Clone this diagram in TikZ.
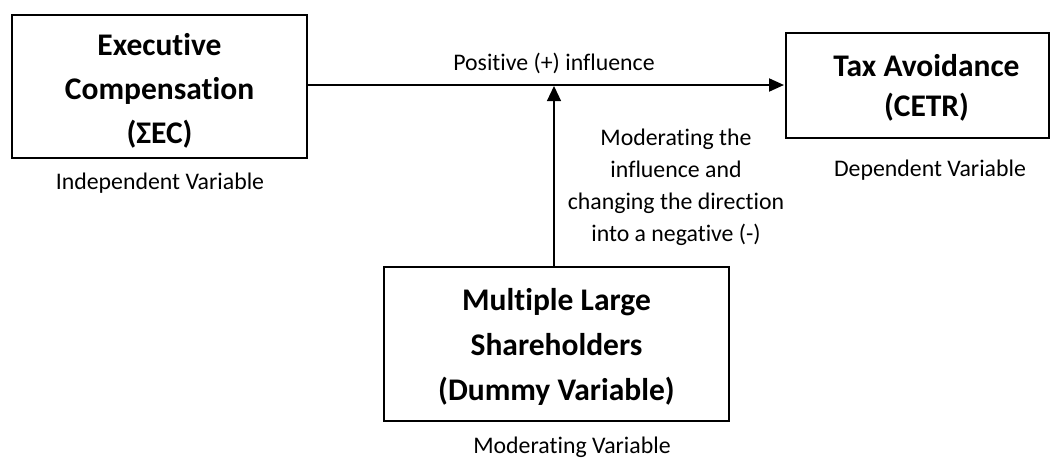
\documentclass[tikz,border=0pt]{standalone}
\usepackage{fontspec}
\setmainfont{Carlito}[Ligatures=NoCommon]
\usetikzlibrary{arrows.meta}
\tikzset{
  varbox/.style={draw, line width=2pt, inner sep=0pt, align=center,
    font=\bfseries\fontsize{31.5}{44}\selectfont},
  caption/.style={inner sep=0pt, align=center, font=\fontsize{23.8}{32}\selectfont},
  mainarrow/.style={line width=2pt, -{Triangle[length=15pt,width=13pt]}},
  modarrow/.style={line width=1.2pt, -{Triangle[length=15pt,width=14pt]}}
}
\begin{document}
\begin{tikzpicture}[x=1pt,y=-1pt]
\useasboundingbox (0,0) rectangle (1051,459);
\node[varbox, minimum width=295pt, minimum height=143pt] (L) at (159.5,86.5)
  {\rule{0pt}{31pt}Executive\\Compensation\\(ΣEC)};
\node[varbox, minimum width=263pt, minimum height=105pt,
  font=\bfseries\fontsize{31.5}{40}\selectfont] (R) at (917.5,85.5)
  {\rule{0pt}{26pt}\hspace*{18pt}Tax Avoidance\\\hspace*{18pt}(CETR)};
\node[varbox, minimum width=345pt, minimum height=154pt,
  font=\bfseries\fontsize{31.5}{45}\selectfont] (M) at (556.5,344)
  {\rule{0pt}{28pt}Multiple Large\\Shareholders\\(Dummy Variable)};
\node[caption] (Lc) at (160,183) {Independent Variable};
\node[caption] (Rc) at (930,170) {Dependent Variable};
\node[caption] (Mc) at (572,447) {Moderating Variable};
\node[caption] (pos) at (554,63) {Positive (+) influence};
\node[caption] (mod) at (676,187) {Moderating the\\influence and\\changing the direction\\into a negative (-)};
\coordinate (J) at (554,86);
\draw[mainarrow] (L.east |- 0,85) -- ([xshift=-1pt]R.west |- 0,85);
\draw[modarrow] (M.north -| J) -- (J);
\end{tikzpicture}
\end{document}
